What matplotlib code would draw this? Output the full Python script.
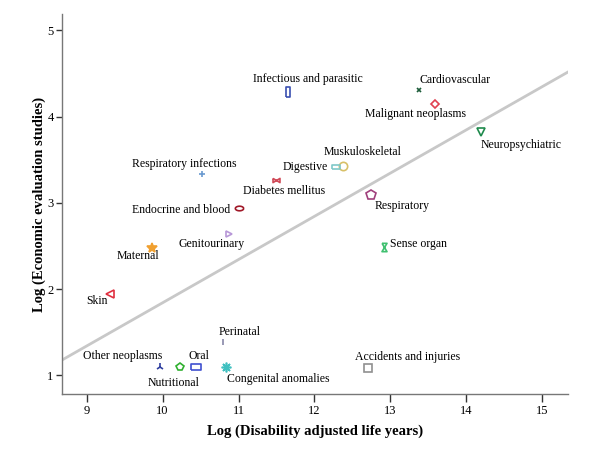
import matplotlib
matplotlib.use("Agg")

import numpy as np
import matplotlib.pyplot as plt

# ---------------------------------------------------------------------------
# Data: log DALYs vs log number of economic evaluation studies
# ---------------------------------------------------------------------------
GROUPS = [
    "Infectious and parasitic", "Cardiovascular", "Malignant neoplasms",
    "Neuropsychiatric", "Muskuloskeletal", "Digestive", "Respiratory",
    "Sense organ", "Respiratory infections", "Diabetes mellitus",
    "Endocrine and blood", "Genitourinary", "Maternal", "Skin", "Perinatal",
    "Other neoplasms", "Nutritional", "Oral", "Congenital anomalies",
    "Accidents and injuries",
]
LOG_DALY = [11.65, 13.38, 13.59, 14.20, 12.37, 12.28, 12.75, 12.92, 10.52,
            11.50, 11.01, 10.88, 9.86, 9.31, 10.80, 9.97, 10.23, 10.44,
            10.83, 12.70]
LOG_STUDIES = [4.28, 4.31, 4.15, 3.82, 3.43, 3.41, 3.09, 2.49, 3.33, 3.26,
               2.94, 2.64, 2.48, 1.94, 1.39, 1.10, 1.10, 1.10, 1.10, 1.09]

# ---------------------------------------------------------------------------
# Styles (marker, colour, size) and label offsets in pixels (dx, dy)
# ---------------------------------------------------------------------------
TALL_RECT = [(-0.5, -1), (0.5, -1), (0.5, 1), (-0.5, 1), (-0.5, -1)]
WIDE_RECT = [(-1, -0.5), (1, -0.5), (1, 0.5), (-1, 0.5), (-1, -0.5)]
ELLIPSE = [(np.cos(t), 0.55 * np.sin(t)) for t in np.linspace(0, 2 * np.pi, 30)]
HOURGLASS = [(-0.6, 1), (0.6, 1), (-0.6, -1), (0.6, -1), (-0.6, 1)]
BOWTIE = [(-1, 0.6), (1, -0.6), (1, 0.6), (-1, -0.6), (-1, 0.6)]

STYLES = [
    (TALL_RECT, "#3a4fb0", 6.5),
    ("x", "#1d5c3a", 3.5),
    ("D", "#e04050", 4.5),
    ("v", "#1f8a4c", 6),
    ("o", "#d8c068", 6),
    (WIDE_RECT, "#80c8c8", 6),
    ("p", "#a0407c", 7),
    (HOURGLASS, "#40c070", 6),
    ("+", "#6a9ad0", 5),
    (BOWTIE, "#d04a58", 5),
    (ELLIPSE, "#a01828", 6),
    (">", "#b898d8", 5),
    ("*", "#f0a030", 7),
    ("<", "#e03040", 5.5),
    ("|", "#8888a8", 5),
    ("2", "#3040a0", 6),
    ("p", "#30b030", 6),
    (WIDE_RECT, "#4050d0", 7.5),
    ((8, 2, 0), "#40c0c0", 7),
    ("s", "#909090", 6),
]
OFFSETS = [
    (20, 13), (36, 10), (-20, -10), (40, -13), (20, 14), (-30, 0),
    (31, -11), (34, 2.5), (-18, 10), (8, -10.5), (-58, -2), (-18, -10),
    (-14, -8.5), (-13, -7), (16, 9.5), (-38, 11), (-6.5, -16), (3, 11),
    (53, -12), (40, 11),
]

plt.rcParams["font.family"] = ["Liberation Serif", "DejaVu Serif"]

fig = plt.figure(figsize=(6, 4.5), dpi=100)
ax = fig.add_axes([0.1033, 0.1244, 0.8434, 0.8446])

# least-squares fit line across the full x range
slope, intercept = np.polyfit(LOG_DALY, LOG_STUDIES, 1)
xlim = (8.675, 15.34)
xs = np.array(xlim)
ax.plot(xs, intercept + slope * xs, color="#c8c8c8", linewidth=2, zorder=1)

for x, y, name, (mk, col, ms), (dx, dy) in zip(LOG_DALY, LOG_STUDIES, GROUPS,
                                              STYLES, OFFSETS):
    filled = mk in ("x", "+", "|", "2", "*") or isinstance(mk, tuple)
    ax.plot([x], [y], linestyle="none", marker=mk, markersize=ms,
            markeredgecolor=col, markerfacecolor=col if filled else "none",
            markeredgewidth=1.2, zorder=3)
    ax.annotate(name, (x, y), xytext=(dx, dy), textcoords="offset pixels",
                ha="center", va="center", fontsize=8.5, color="black")

ax.set_xlim(*xlim)
ax.set_ylim(0.783, 5.19)
ax.set_xticks([9, 10, 11, 12, 13, 14, 15])
ax.set_yticks([1, 2, 3, 4, 5])

for side in ("top", "right"):
    ax.spines[side].set_visible(False)
for side in ("left", "bottom"):
    ax.spines[side].set_color("#777777")
    ax.spines[side].set_linewidth(1.0)
ax.tick_params(axis="x", direction="out", length=6, width=1, pad=2,
               labelsize=9, color="#333333")
ax.tick_params(axis="y", direction="out", length=4, width=1, pad=2,
               labelsize=9, color="#333333")

ax.set_xlabel("Log (Disability adjusted life years)", fontsize=10.5,
              fontweight="bold", labelpad=5)
ax.set_ylabel("Log (Economic evaluation studies)", fontsize=10.5,
              fontweight="bold", labelpad=1)

fig.savefig("out.png", dpi=100)
